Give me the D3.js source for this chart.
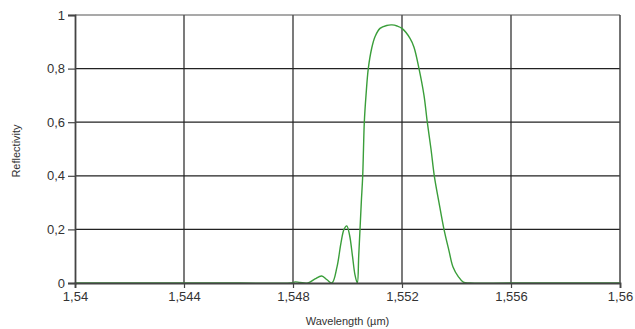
<!DOCTYPE html>
<html>
<head>
<meta charset="utf-8">
<script src="https://cdn.jsdelivr.net/npm/d3@7.9.0/dist/d3.min.js"></script>
<style>
  body { margin: 0; background: #fff; }
  svg text { font-family: "Liberation Sans", Arial, sans-serif; fill: #333; }
</style>
</head>
<body>
<script>
// Spectrum: wavelength (µm) and reflectivity
const wavelength = [1.54, 1.546, 1.548, 1.54807, 1.548257, 1.54855, 1.548807, 1.549053, 1.549248, 1.549431,
  1.549615, 1.549761, 1.549872, 1.549971, 1.550073, 1.550183, 1.550275, 1.55036,
  1.550411, 1.550459, 1.550506, 1.550558, 1.550587, 1.550617, 1.550679, 1.550763, 1.550888, 1.551009,
  1.551193, 1.551439, 1.551633, 1.55182, 1.552, 1.552294, 1.55244, 1.552624, 1.552807, 1.552928,
  1.553064, 1.553185, 1.553358, 1.553541, 1.553725, 1.553872, 1.554066, 1.55425, 1.554495, 1.556, 1.56];
const reflectivity = [0, 0, 0.001, 0.004, 0.002, 0, 0.015, 0.026, 0.012, 0,
  0.06, 0.15, 0.2, 0.213, 0.18, 0.10, 0.03, 0,
  0.1, 0.2, 0.3, 0.4, 0.5, 0.6, 0.7, 0.8, 0.876, 0.919,
  0.95, 0.961, 0.963, 0.959, 0.95, 0.913, 0.88, 0.8, 0.7, 0.6,
  0.5, 0.4, 0.3, 0.2, 0.12, 0.06, 0.024, 0.003, 0, 0, 0];

const xTicks = [1.54, 1.544, 1.548, 1.552, 1.556, 1.56];
const yTicks = [0, 0.2, 0.4, 0.6, 0.8, 1];

const width = 635, height = 329;
const margin = { top: 15, right: 15, bottom: 46, left: 75 };

const comma = v => String(+v.toFixed(4)).replace(".", ",");

const svg = d3.select("body").append("svg")
    .attr("width", width)
    .attr("height", height);

const x = d3.scaleLinear().domain([1.54, 1.56]).range([margin.left, width - margin.right]);
const y = d3.scaleLinear().domain([0, 1]).range([height - margin.bottom, margin.top]);

svg.append("clipPath").attr("id", "plot")
    .append("rect")
    .attr("x", x(1.54)).attr("y", y(1) - 2)
    .attr("width", x(1.56) - x(1.54)).attr("height", y(0) - y(1) + 2);

// Grid
svg.append("g")
    .selectAll("line")
    .data(xTicks.slice(1, -1))
    .enter().append("line")
    .attr("x1", d => x(d)).attr("x2", d => x(d))
    .attr("y1", y(1)).attr("y2", y(0))
    .attr("stroke", "#222").attr("stroke-width", 1.2);

svg.append("g")
    .selectAll("line")
    .data(yTicks.slice(1, -1))
    .enter().append("line")
    .attr("x1", x(1.54)).attr("x2", x(1.56))
    .attr("y1", d => y(d)).attr("y2", d => y(d))
    .attr("stroke", "#222").attr("stroke-width", 1.2);

// Frame: top and right
svg.append("line")
    .attr("x1", x(1.54)).attr("x2", x(1.56))
    .attr("y1", y(1)).attr("y2", y(1))
    .attr("stroke", "#555").attr("stroke-width", 1.2);
svg.append("line")
    .attr("x1", x(1.56)).attr("x2", x(1.56))
    .attr("y1", y(1)).attr("y2", y(0))
    .attr("stroke", "#444").attr("stroke-width", 1.5);

// Curve
const line = d3.line()
    .x((d, i) => x(wavelength[i]))
    .y(d => y(d))
    .curve(d3.curveCatmullRom.alpha(0.5));

svg.append("path")
    .datum(reflectivity)
    .attr("clip-path", "url(#plot)")
    .attr("d", line)
    .attr("fill", "none")
    .attr("stroke", "#3a9e3a")
    .attr("stroke-width", 1.4);

// Axes
const xAxis = svg.append("g")
    .attr("transform", `translate(0,${y(0)})`)
    .call(d3.axisBottom(x).tickValues(xTicks).tickFormat(comma).tickSize(5).tickPadding(4));
const yAxis = svg.append("g")
    .attr("transform", `translate(${x(1.54)},0)`)
    .call(d3.axisLeft(y).tickValues(yTicks).tickFormat(comma).tickSize(7).tickPadding(3));

[xAxis, yAxis].forEach(a => {
    a.select(".domain").attr("stroke", "#444").attr("stroke-width", 1.8);
    a.selectAll(".tick line").attr("stroke", "#444").attr("stroke-width", 1.2);
    a.selectAll(".tick text").style("font-size", "13px").attr("fill", "#333");
});

svg.append("text")
    .attr("x", (x(1.54) + x(1.56)) / 2)
    .attr("y", 325)
    .attr("text-anchor", "middle")
    .style("font-size", "11px")
    .text("Wavelength (µm)");

svg.append("text")
    .attr("transform", `translate(20,${(y(0) + y(1)) / 2 + 2}) rotate(-90)`)
    .attr("text-anchor", "middle")
    .style("font-size", "11px")
    .text("Reflectivity");
</script>
</body>
</html>
